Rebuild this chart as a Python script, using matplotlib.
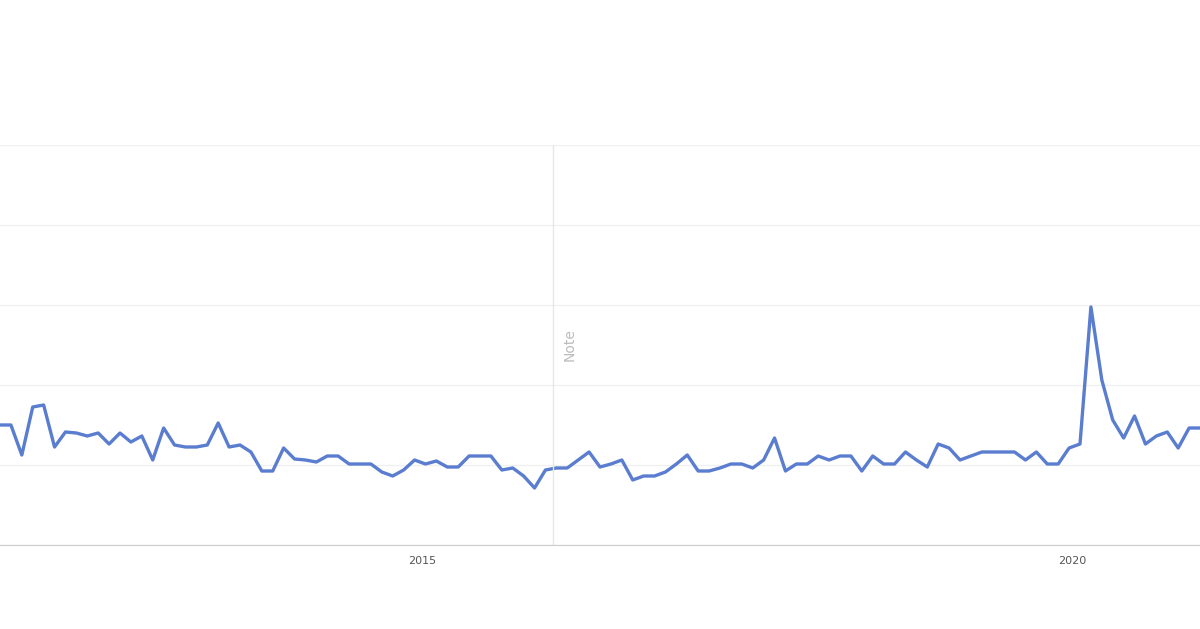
import numpy as np
import matplotlib.pyplot as plt

# interest values, roughly monthly, from late 2011 to end of 2020
interest = [30, 30, 22.5, 34.5, 35, 24.5, 28.25, 28, 27.25, 28, 25.25, 28, 25.75, 27.25, 21.25,
            29.25, 25, 24.5, 24.5, 25, 30.5, 24.5, 25, 23.25, 18.5, 18.5, 24.25, 21.5, 21.25, 20.75,
            22.25, 22.25, 20.25, 20.25, 20.25, 18.25, 17.25, 18.75, 21.25, 20.25, 21, 19.5, 19.5,
            22.25, 22.25, 22.25, 18.75, 19.25, 17.25, 14.25, 18.75, 19.25, 19.25, 21.25, 23.25,
            19.5, 20.25, 21.25, 16.25, 17.25, 17.25, 18.25, 20.25, 22.5, 18.5, 18.5, 19.25, 20.25,
            20.25, 19.25, 21.25, 26.75, 18.5, 20.25, 20.25, 22.25, 21.25, 22.25, 22.25, 18.5, 22.25,
            20.25, 20.25, 23.25, 21.25, 19.5, 25.25, 24.25, 21.25, 22.25, 23.25, 23.25, 23.25, 23.25,
            21.25, 23.25, 20.25, 20.25, 24.25, 25.25, 59.5, 41.25, 31.25, 26.75, 32.25, 25.25,
            27.25, 28.25, 24.25, 29.25, 29.25]
start_year = 2011.75
end_year = 2020.98
years = np.linspace(start_year, end_year, len(interest))
note_year = 2016.0
tick_years = [2015, 2020]

fig = plt.figure(figsize=(12, 6.29), dpi=100)
ax = fig.add_axes([0, 84 / 629, 1, 400 / 629])
ax.plot(years, interest, color='#5a7dd0', linewidth=2.4, solid_joinstyle='round')
ax.set_xlim(start_year, end_year)
ax.set_ylim(0, 100)
ax.set_yticks(np.arange(0, 101, 20))
ax.yaxis.grid(True, color='#f0f0f0', linewidth=1)
ax.set_axisbelow(True)
ax.tick_params(axis='y', left=False, labelleft=False)
ax.set_xticks(tick_years)
ax.set_xticklabels([str(y) for y in tick_years], fontsize=8, color='#555555')
ax.tick_params(axis='x', length=0, pad=8)
for s in ['top', 'left', 'right']:
    ax.spines[s].set_visible(False)
ax.spines['bottom'].set_color('#cccccc')
ax.axvline(note_year, color='#e6e6e6', linewidth=1)
ax.text(note_year + 0.08, 50, 'Note', rotation=90, color='#bbbbbb', fontsize=10,
        ha='left', va='center')

fig.savefig('out.png')
